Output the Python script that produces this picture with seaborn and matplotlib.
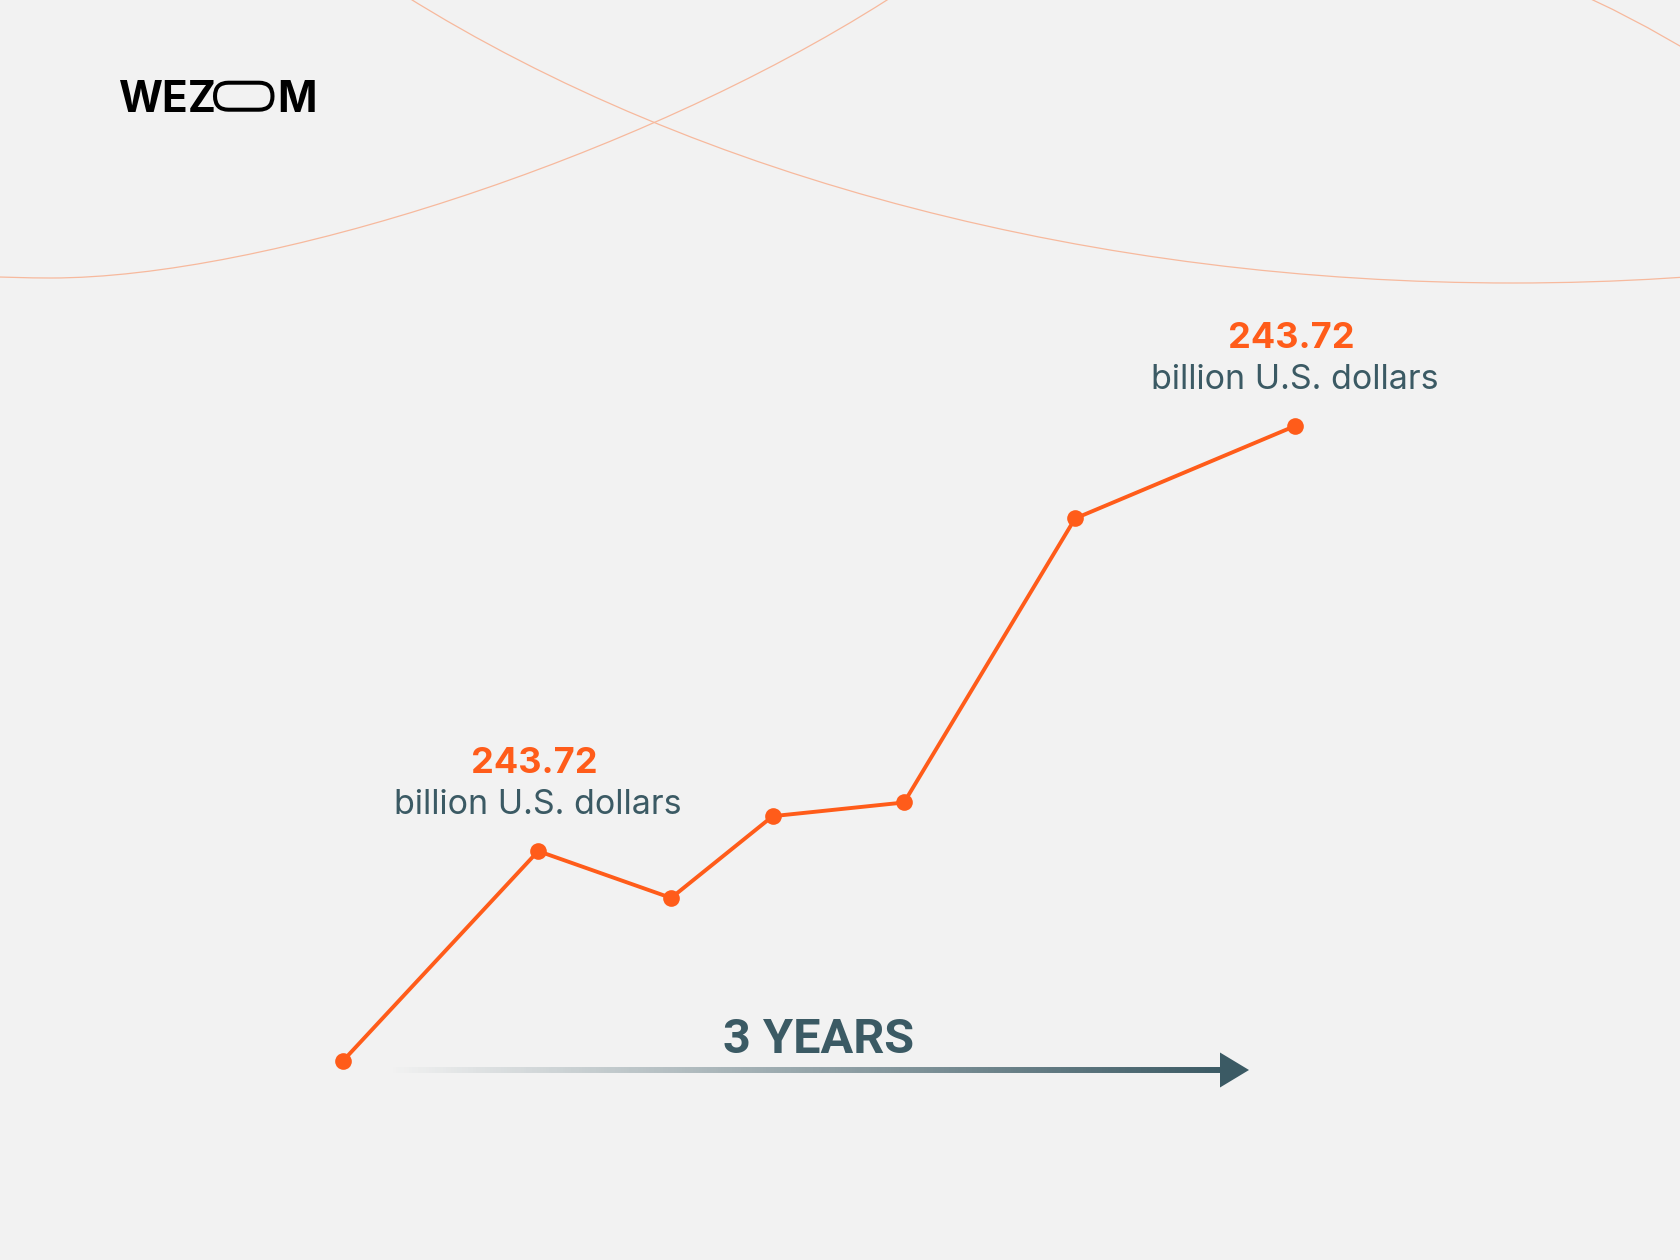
import numpy as np
import pandas as pd
import seaborn as sns
import matplotlib
matplotlib.use("Agg")
import matplotlib.pyplot as plt
from matplotlib.patches import Ellipse, PathPatch, FancyBboxPatch, Polygon
from matplotlib.path import Path
from matplotlib.collections import LineCollection

# ---------------- data ----------------
years = [0.0, 0.615, 1.034, 1.354, 1.768, 2.307, 3.0]          # time (years)
market = [58.2, 119.5, 105.8, 129.7, 133.7, 216.7, 243.72]     # billion U.S. dollars
label_points = [1, 6]
label_values = ["243.72", "243.72"]
label_unit = "billion U.S. dollars"
period_label = "3 YEARS"
brand = ["WEZ", "M"]

BG = "#f2f2f2"
ORANGE = "#ff5c1a"
SLATE = "#3b5a64"
ARC = "#f7b99d"

sns.set_theme(style="white")
plt.rcParams["font.family"] = ["Inter", "DejaVu Sans"]

W, H = 1680, 1260
fig = plt.figure(figsize=(W / 100, H / 100), dpi=100, facecolor=BG)

# decoration layer in pixel coordinates
deco = fig.add_axes([0, 0, 1, 1])
deco.set_xlim(0, W)
deco.set_ylim(H, 0)
deco.set_facecolor(BG)
deco.axis("off")

# background arcs
deco.add_patch(Ellipse((1513, -700), 2 * 1568, 2 * 983, fill=False, ec=ARC, lw=0.9))
arc2 = Path([(-120, 270), (-20, 278), (51, 278), (262, 278), (636, 160), (887, 0), (950, -40)],
            [Path.MOVETO, Path.CURVE3, Path.CURVE3, Path.CURVE4, Path.CURVE4, Path.CURVE4, Path.LINETO])
deco.add_patch(PathPatch(arc2, fill=False, ec=ARC, lw=0.9))
arc3 = Path([(1560, -15), (1630, 15), (1700, 58)], [Path.MOVETO, Path.CURVE3, Path.CURVE3])
deco.add_patch(PathPatch(arc3, fill=False, ec=ARC, lw=0.9))

# logo
deco.text(119, 111.5, brand[0], fontsize=30.5, fontweight="bold", color="black",
          family=["Inter", "DejaVu Sans"], ha="left", va="baseline")
deco.add_patch(FancyBboxPatch((215, 82.7), 272.5 - 215, 27,
                              boxstyle="round,pad=0,rounding_size=13.5",
                              fill=False, ec="black", lw=2.9))
deco.text(277, 111.5, brand[1], fontsize=30.5, fontweight="bold", color="black",
          family=["Inter", "DejaVu Sans"], ha="left", va="baseline")

# gradient arrow
xs = np.linspace(390, 1222, 300)
segs = [[(xs[i], 1070), (xs[i + 1], 1070)] for i in range(len(xs) - 1)]
alphas = np.linspace(0, 1, len(segs))
cols = [matplotlib.colors.to_rgba(SLATE, a) for a in alphas]
deco.add_collection(LineCollection(segs, colors=cols, linewidths=4.3, capstyle="butt"))
deco.add_patch(Polygon([(1220, 1052.5), (1249, 1070), (1220, 1087.5)], closed=True,
                       fc=SLATE, ec="none"))
deco.text(819, 1053, period_label, fontsize=35, fontweight="bold", color=SLATE,
          ha="center", va="baseline", family=["Roboto", "DejaVu Sans"])

# data layer
ax = fig.add_axes([0, 0, 1, 1])
ax.patch.set_alpha(0)
px_per_year = (1295 - 343) / 3.0
px_per_bn = (1260 - 426) / 243.72
ax.set_xlim(-343 / px_per_year, (W - 343) / px_per_year)
ax.set_ylim(0, H / px_per_bn)
ax.axis("off")

df = pd.DataFrame({"year": years, "value": market})
sns.lineplot(data=df, x="year", y="value", ax=ax, color=ORANGE, linewidth=2.8,
             marker="o", markersize=12, markeredgewidth=0, markerfacecolor=ORANGE)

for idx, val in zip(label_points, label_values):
    x, y = years[idx], market[idx]
    ax.annotate(val, (x, y), xytext=(-4, 78), textcoords="offset pixels",
                ha="center", va="baseline", fontsize=26, fontweight="bold", color=ORANGE)
    ax.annotate(label_unit, (x, y), xytext=(0, 37), textcoords="offset pixels",
                ha="center", va="baseline", fontsize=24.5, fontweight="normal", color=SLATE)

fig.savefig("out.png", dpi=100, facecolor=BG)
